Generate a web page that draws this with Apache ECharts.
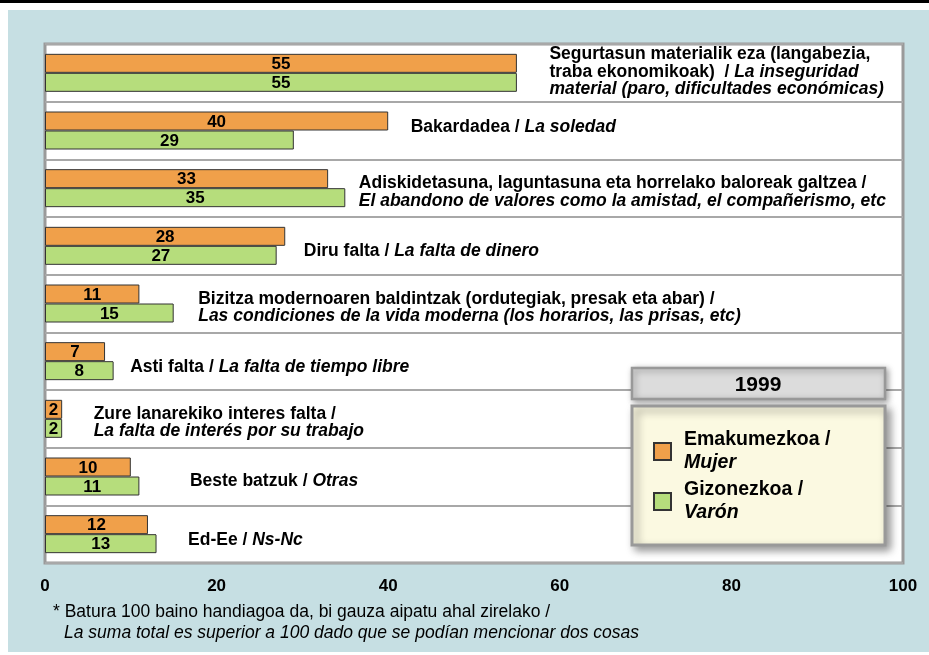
<!DOCTYPE html>
<html>
<head>
<meta charset="utf-8">
<script src="https://cdn.jsdelivr.net/npm/echarts@6/dist/echarts.min.js"></script>
<style>
html,body{margin:0;padding:0;background:#fff;}
#chart{width:929px;height:655px;
background:linear-gradient(#000,#000) 0 0/100% 3px no-repeat,
linear-gradient(#c6dfe3,#c6dfe3) 8px 10px/921px 642px no-repeat,#fff;}
</style>
</head>
<body>
<div id="chart"></div>
<script>
// ---- data ----
const categories = [
  'Segurtasun materialik eza',
  'Bakardadea',
  'Adiskidetasuna galtzea',
  'Diru falta',
  'Bizitza modernoaren baldintzak',
  'Asti falta',
  'Zure lanarekiko interes falta',
  'Beste batzuk',
  'Ed-Ee'
];
const categoryLabels = [
  '{b|Segurtasun materialik eza (langabezia,}\n{b|traba ekonomikoak)  / }{i|La inseguridad}\n{i|material (paro, dificultades económicas)}',
  '{b|Bakardadea / }{i|La soledad}',
  '{b|Adiskidetasuna, laguntasuna eta horrelako baloreak galtzea /}\n{i|El abandono de valores como la amistad, el compañerismo, etc}',
  '{b|Diru falta / }{i|La falta de dinero}',
  '{b|Bizitza modernoaren baldintzak (ordutegiak, presak eta abar) /}\n{i|Las condiciones de la vida moderna (los horarios, las prisas, etc)}',
  '{b|Asti falta / }{i|La falta de tiempo libre}',
  '{b|Zure lanarekiko interes falta /}\n{i|La falta de interés por su trabajo}',
  '{b|Beste batzuk / }{i|Otras}',
  '{b|Ed-Ee / }{i|Ns-Nc}'
];
const mujer = [55, 40, 33, 28, 11, 7, 2, 10, 12];
const varon = [55, 29, 35, 27, 15, 8, 2, 11, 13];
const seriesNames = ['Emakumezkoa / Mujer', 'Gizonezkoa / Varón'];
const xTicks = [0, 20, 40, 60, 80, 100];
const legendTitle = '1999';
const footnote1 = '* Batura 100 baino handiagoa da, bi gauza aipatu ahal zirelako /';
const footnote2 = 'La suma total es superior a 100 dado que se podían mencionar dos cosas';

// ---- layout (label nudges, px) ----
const labelNudge = [[32,-1],[22,-3],[13,4],[18,5],[24,4],[16,6],[31,4],[50,5],[31,6]];

const FONT = '"Liberation Sans", Arial, sans-serif';
const richStyles = {
  b: {fontFamily: FONT, fontWeight: 'bold', fontSize: 17.5, color: '#000', opacity: 1, lineHeight: 17.5},
  i: {fontFamily: FONT, fontWeight: 'bold', fontStyle: 'italic', fontSize: 17.5, color: '#000', opacity: 1, lineHeight: 17.5}
};

const labelData = categories.map((c, i) => ({
  value: [Math.max(mujer[i], varon[i]), i],
  label: {
    show: true, position: 'right', distance: 0, color: '#000', opacity: 1,
    offset: labelNudge[i],
    formatter: categoryLabels[i],
    rich: richStyles
  }
}));

const barLabel = {
  show: true, position: 'inside', offset: [0, 1],
  fontFamily: FONT, fontWeight: 'bold', fontSize: 17, color: '#000'
};

const chart = echarts.init(document.getElementById('chart'), null, {renderer: 'canvas'});
chart.setOption({
  animation: false,
  grid: {
    left: 45, top: 44, width: 858, height: 519,
    show: true, backgroundColor: '#fff', borderColor: '#9a9a9a', borderWidth: 3
  },
  xAxis: {
    type: 'value', min: xTicks[0], max: xTicks[xTicks.length - 1], interval: 20,
    axisLine: {show: false}, axisTick: {show: false}, splitLine: {show: false},
    axisLabel: {margin: 15, fontFamily: FONT, fontWeight: 'bold', fontSize: 17, color: '#000'}
  },
  yAxis: {
    type: 'category', data: categories, inverse: true,
    axisLine: {show: false}, axisTick: {show: false}, axisLabel: {show: false},
    splitLine: {show: true, lineStyle: {color: '#a8a8a8', width: 2}}
  },
  legend: {
    data: seriesNames, orient: 'vertical', left: 653, top: 430, padding: 0,
    itemWidth: 17, itemHeight: 17, itemGap: 7, z: 20,
    icon: 'rect',
    formatter: name => {
      const p = name.split(' / ');
      return '{b|' + p[0] + ' /}\n{i|' + p[1] + '}';
    },
    textStyle: {
      padding: [0, 0, 0, 8], color: '#000',
      rich: {
        b: {fontFamily: FONT, fontWeight: 'bold', fontSize: 19.5, color: '#000', lineHeight: 23},
        i: {fontFamily: FONT, fontWeight: 'bold', fontStyle: 'italic', fontSize: 19.5, color: '#000', lineHeight: 23}
      }
    }
  },
  graphic: [
    {type: 'rect', z: 10, shape: {x: 632, y: 368, width: 253, height: 31},
     style: {fill: '#dcdcdc', stroke: '#999', lineWidth: 2.5, shadowBlur: 6, shadowColor: 'rgba(0,0,0,0.35)', shadowOffsetX: 2, shadowOffsetY: 2}},
    {type: 'text', z: 11, x: 758, y: 385,
     style: {text: legendTitle, fill: '#000', font: 'bold 21px ' + FONT, textAlign: 'center', textVerticalAlign: 'middle'}},
    {type: 'rect', z: 10, shape: {x: 632, y: 406, width: 253, height: 139},
     style: {fill: '#fbf9e1', stroke: '#999', lineWidth: 3, shadowBlur: 8, shadowColor: 'rgba(0,0,0,0.4)', shadowOffsetX: 4, shadowOffsetY: 4}},
    {type: 'text', z: 10, x: 53, y: 612,
     style: {text: footnote1, fill: '#000', font: '17.5px ' + FONT, textVerticalAlign: 'middle'}},
    {type: 'text', z: 10, x: 64, y: 633,
     style: {text: footnote2, fill: '#000', font: 'italic 17.5px ' + FONT, textVerticalAlign: 'middle'}}
  ],
  series: [
    {
      name: seriesNames[0], type: 'bar', data: mujer, barWidth: 19, barGap: '0%',
      itemStyle: {color: '#f0a04a', borderColor: '#333', borderWidth: 1},
      label: barLabel
    },
    {
      name: seriesNames[1], type: 'bar', data: varon, barWidth: 19, barGap: '0%',
      itemStyle: {color: '#b6dd7c', borderColor: '#333', borderWidth: 1},
      label: barLabel
    },
    {
      name: 'labels', type: 'scatter', data: labelData, symbolSize: 1,
      itemStyle: {color: '#fff', opacity: 1}, silent: true, z: 5
    }
  ]
});
</script>
</body>
</html>
